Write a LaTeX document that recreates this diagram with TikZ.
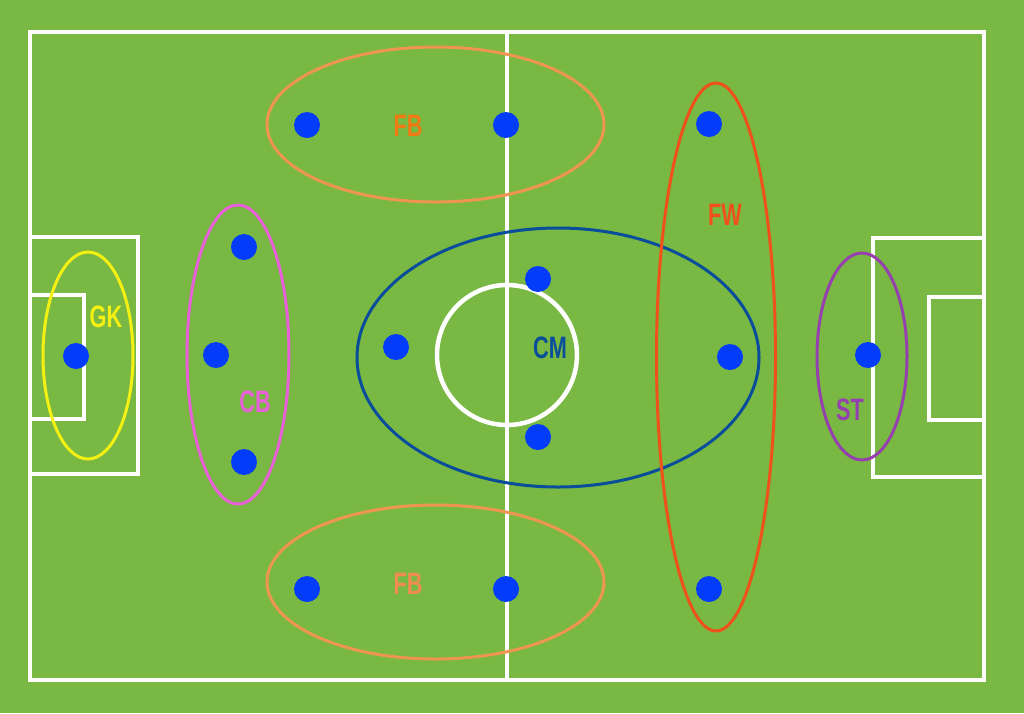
\documentclass[tikz,border=0pt]{standalone}
\usepackage{fontspec}
\setmainfont{Liberation Sans}
\usetikzlibrary{shapes.geometric}
\definecolor{pitch}{RGB}{121,184,66}
\definecolor{dotblue}{RGB}{5,60,250}
\definecolor{gkcol}{RGB}{245,240,20}
\definecolor{cbcol}{RGB}{232,96,215}
\definecolor{fbline}{RGB}{238,150,80}
\definecolor{fbtop}{RGB}{240,122,20}
\definecolor{fbbot}{RGB}{240,140,80}
\definecolor{fwcol}{RGB}{240,80,25}
\definecolor{cmcol}{RGB}{10,78,155}
\definecolor{stcol}{RGB}{150,64,175}
\tikzset{
  fieldline/.style={draw=white, line width=4.5pt},
  player/.style={circle, fill=dotblue, minimum size=26pt, inner sep=0pt},
  zone/.style={ellipse, line width=3pt, inner sep=0pt},
  poslabel/.style={font=\bfseries\fontsize{31}{31}\selectfont, xscale=0.7, inner sep=0pt}
}
\begin{document}
\begin{tikzpicture}[x=1pt,y=-1pt]
\fill[pitch] (0,0) rectangle (1024,713);
\useasboundingbox (0,0) rectangle (1024,713);
% field
\draw[fieldline] (30,32) rectangle (984,680);
\draw[fieldline] (507,32) -- (507,680);
\draw[fieldline] (507,355) circle (70);
\draw[fieldline] (30,237) rectangle (138,474);
\draw[fieldline] (30,295) rectangle (84,419);
\draw[fieldline] (873,238) rectangle (984,477);
\draw[fieldline] (929,297) rectangle (984,420);
% zones
\node[zone, draw=gkcol, minimum width=90pt, minimum height=207pt] (zgk) at (88,355.5) {};
\node[zone, draw=cbcol, minimum width=102pt, minimum height=299pt] (zcb) at (238,354.5) {};
\node[zone, draw=fbline, minimum width=337pt, minimum height=155pt] (zfbt) at (435.5,124.5) {};
\node[zone, draw=fbline, minimum width=337pt, minimum height=154pt] (zfbb) at (435.5,582) {};
\node[zone, draw=cmcol, minimum width=402pt, minimum height=259pt] (zcm) at (558,357.5) {};
\node[zone, draw=fwcol, minimum width=119pt, minimum height=548pt] (zfw) at (716,357) {};
\node[zone, draw=stcol, minimum width=90pt, minimum height=207pt] (zst) at (862,356.5) {};
% players
\node[player] (gk) at (76,356) {};
\node[player] (cb1) at (244,247) {};
\node[player] (cb2) at (216,355) {};
\node[player] (cb3) at (244,462) {};
\node[player] (fbt1) at (307,125) {};
\node[player] (fbt2) at (506,125) {};
\node[player] (fbb1) at (307,589) {};
\node[player] (fbb2) at (506,589) {};
\node[player] (cm1) at (396,347) {};
\node[player] (cm2) at (538,279) {};
\node[player] (cm3) at (538,437) {};
\node[player] (cm4) at (730,357) {};
\node[player] (fw1) at (709,124) {};
\node[player] (fw2) at (709,589) {};
\node[player] (st) at (868,355) {};
% labels
\node[poslabel, text=gkcol] (lgk) at (106,317) {GK};
\node[poslabel, text=cbcol] (lcb) at (255,402) {CB};
\node[poslabel, text=fbtop] (lfbt) at (408,126) {FB};
\node[poslabel, text=fbbot] (lfbb) at (408,584) {FB};
\node[poslabel, text=fwcol] (lfw) at (725,215) {FW};
\node[poslabel, text=cmcol] (lcm) at (550,348) {CM};
\node[poslabel, text=stcol] (lst) at (850,410) {ST};
\end{tikzpicture}
\end{document}
